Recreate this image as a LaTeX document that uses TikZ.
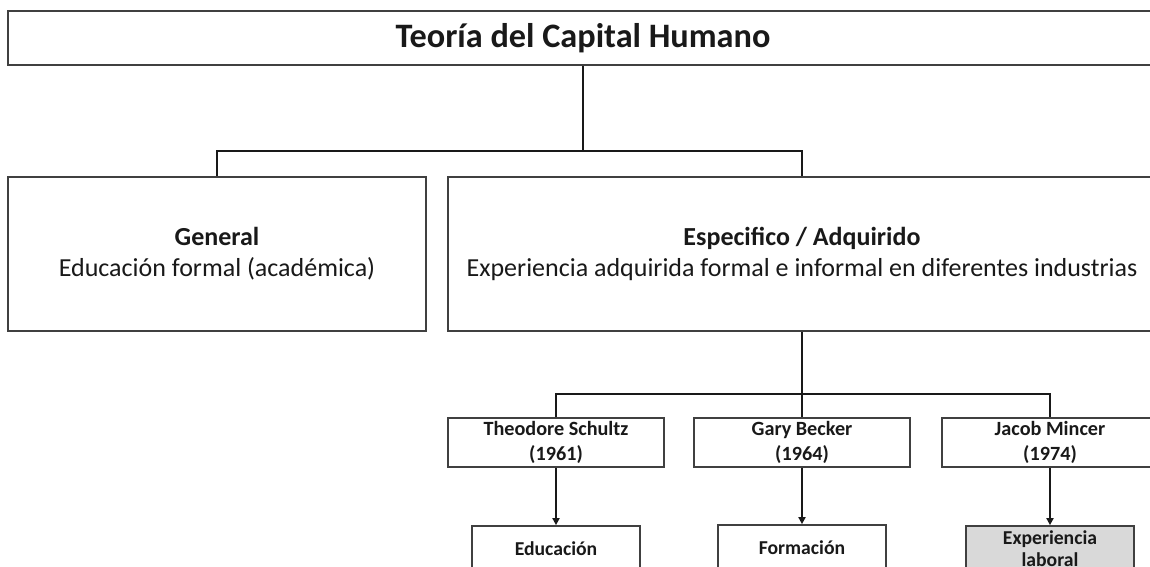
\documentclass[tikz,border=0pt]{standalone}
\usepackage{fontspec}
\setmainfont{Carlito}
\usetikzlibrary{arrows.meta,positioning}

\begin{document}
\begin{tikzpicture}[
    x=0.02cm, y=-0.02cm,
    caja/.style={draw=black!75, line width=1pt, fill=white, align=center, inner sep=0pt, text=black!90},
    titulo/.style={caja, minimum width=23cm, minimum height=1.08cm, font=\fontsize{19.5}{22}\selectfont\bfseries},
    rama/.style={caja, minimum height=3.08cm, font=\fontsize{14.8}{17.5}\selectfont},
    autor/.style={caja, minimum width=4.32cm, minimum height=0.98cm, font=\fontsize{11.5}{14.5}\selectfont\bfseries},
    efecto/.style={caja, minimum width=3.36cm, minimum height=0.92cm, font=\fontsize{11.2}{12.5}\selectfont\bfseries},
    conn/.style={line width=1.1pt, black!90},
    arr/.style={conn, -{Triangle[length=4pt, width=4pt]}}
]
\useasboundingbox (0,0) rectangle (1150,566);
\clip (0,0) rectangle (1150,566);

\node[titulo] (teoria) at (583,38) {Teoría del Capital Humano};
\node[rama, minimum width=8.36cm] (general) at (217,254) {\textbf{General}\\Educación formal (académica)};
\node[rama, minimum width=14.16cm] (especifico) at (802,254) {\textbf{Especifico / Adquirido}\\Experiencia adquirida formal e informal en diferentes industrias};

\node[autor] (schultz) at (556,442.5) {Theodore Schultz\\(1961)};
\node[autor] (becker) at (802,442.5) {Gary Becker\\(1964)};
\node[autor] (mincer) at (1050,442.5) {Jacob Mincer\\(1974)};

\node[efecto] (educacion) at (556,549) {Educación};
\node[efecto] (formacion) at (802,548) {Formación};
\node[efecto, fill=black!15] (experiencia) at (1050,549) {Experiencia\\laboral};

\coordinate (nivel1) at (583,151);
\coordinate (nivel2) at (802,394);

\draw[conn] (teoria) -- (nivel1);
\draw[conn] (general.north) |- (nivel1) -| (especifico.north);
\draw[conn] (especifico) -- (becker);
\draw[conn] (schultz.north) |- (nivel2) -| (mincer.north);

\draw[arr] (schultz) -- (educacion);
\draw[arr] (becker) -- (formacion);
\draw[arr] (mincer) -- (experiencia);
\end{tikzpicture}
\end{document}
